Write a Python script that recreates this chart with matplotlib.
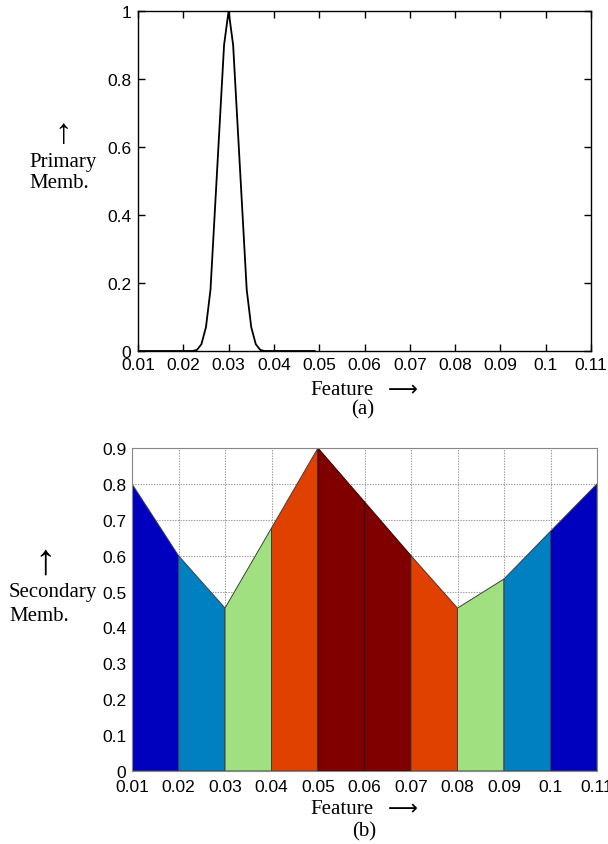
import matplotlib
matplotlib.use('Agg')
import matplotlib.pyplot as plt

# (a) primary membership
prim_x = [0.010, 0.020, 0.022, 0.023, 0.024, 0.025, 0.026, 0.027, 0.028, 0.029, 0.030,
          0.031, 0.032, 0.033, 0.034, 0.035, 0.036, 0.037, 0.038, 0.040, 0.049]
prim_y = [0.0, 0.0, 0.0, 0.003, 0.02, 0.07, 0.18, 0.42, 0.66, 0.90, 1.0,
          0.90, 0.66, 0.42, 0.18, 0.07, 0.02, 0.003, 0.0, 0.0, 0.0]

# (b) secondary membership
sec_x = [0.01, 0.02, 0.03, 0.04, 0.05, 0.06, 0.07, 0.08, 0.09, 0.10, 0.11]
sec_y = [0.80, 0.60, 0.454, 0.677, 0.90, 0.75, 0.60, 0.454, 0.535, 0.668, 0.80]
seg_colors = ['#0000BF', '#0080C0', '#A0E080', '#E04000', '#800000',
              '#800000', '#E04000', '#A0E080', '#0080C0', '#0000BF']

xticks = [0.01, 0.02, 0.03, 0.04, 0.05, 0.06, 0.07, 0.08, 0.09, 0.1, 0.11]
xtick_labels = ['0.01', '0.02', '0.03', '0.04', '0.05', '0.06', '0.07', '0.08', '0.09', '0.1', '0.11']

W, H = 608, 845
fig = plt.figure(figsize=(W / 100, H / 100), dpi=100)
sans = ['Liberation Sans', 'DejaVu Sans']
serif = ['Liberation Serif', 'DejaVu Serif']
tick_fs = 12.5
lab_fs = 15


def fx(px):
    return px / W


def fy(py):
    return 1 - py / H


# ---- top plot ----
ax1 = fig.add_axes([fx(138), fy(352), (591 - 138) / W, (352 - 12) / H])
ax1.plot(prim_x, prim_y, color='black', linewidth=1.3)
ax1.set_xlim(0.01, 0.11)
ax1.set_ylim(0, 1)
ax1.set_xticks(xticks)
ax1.set_xticklabels(xtick_labels)
ax1.set_yticks([0, 0.2, 0.4, 0.6, 0.8, 1])
ax1.set_yticklabels(['0', '0.2', '0.4', '0.6', '0.8', '1'])
ax1.tick_params(direction='in', length=5, top=True, right=True, width=1,
                labelsize=tick_fs, colors='black')
ax1.tick_params(axis='x', pad=4)
ax1.tick_params(axis='y', pad=5)
for lab in ax1.get_xticklabels() + ax1.get_yticklabels():
    lab.set_family(sans)
for sp in ax1.spines.values():
    sp.set_linewidth(1)

fig.text(fx(63), fy(134), '\u2191', ha='center', va='center', fontsize=25, family=serif)
fig.text(fx(29), fy(162), 'Primary', ha='left', va='center', fontsize=lab_fs, family=serif)
fig.text(fx(29), fy(184), 'Memb.', ha='left', va='center', fontsize=lab_fs, family=serif)
fig.text(fx(310), fy(391), 'Feature', ha='left', va='center', fontsize=lab_fs, family=serif)
fig.text(fx(388), fy(390), '\u27f6', ha='left', va='center', fontsize=lab_fs, family=['DejaVu Sans'])
fig.text(fx(363), fy(410), '(a)', ha='center', va='center', fontsize=lab_fs, family=serif)

# ---- bottom plot ----
ax2 = fig.add_axes([fx(132), fy(772), (597 - 132) / W, (772 - 449) / H])
ax2.set_axisbelow(True)
ax2.grid(True, linestyle=(0, (1.2, 1.2)), color='#999999', linewidth=0.8)
for i in range(len(sec_x) - 1):
    xs = [sec_x[i], sec_x[i], sec_x[i + 1], sec_x[i + 1]]
    ys = [0, sec_y[i], sec_y[i + 1], 0]
    edge = '#300000' if seg_colors[i] == '#800000' else '#404040'
    ax2.fill(xs, ys, facecolor=seg_colors[i], edgecolor=edge, linewidth=0.7, zorder=2)
ax2.set_xlim(0.01, 0.11)
ax2.set_ylim(0, 0.9)
ax2.set_xticks(xticks)
ax2.set_xticklabels(xtick_labels)
ax2.set_yticks([0, 0.1, 0.2, 0.3, 0.4, 0.5, 0.6, 0.7, 0.8, 0.9])
ax2.set_yticklabels(['0', '0.1', '0.2', '0.3', '0.4', '0.5', '0.6', '0.7', '0.8', '0.9'])
ax2.tick_params(length=0, labelsize=tick_fs, colors='black')
ax2.tick_params(axis='x', pad=6)
ax2.tick_params(axis='y', pad=4)
for lab in ax2.get_xticklabels() + ax2.get_yticklabels():
    lab.set_family(sans)
for sp in ax2.spines.values():
    sp.set_linewidth(0.8)
    sp.set_color('#888888')

fig.text(fx(45), fy(563), '\u2191', ha='center', va='center', fontsize=31, family=serif)
fig.text(fx(9), fy(593), 'Secondary', ha='left', va='center', fontsize=lab_fs, family=serif)
fig.text(fx(9), fy(617), 'Memb.', ha='left', va='center', fontsize=lab_fs, family=serif)
fig.text(fx(310), fy(810), 'Feature', ha='left', va='center', fontsize=lab_fs, family=serif)
fig.text(fx(388), fy(809), '\u27f6', ha='left', va='center', fontsize=lab_fs, family=['DejaVu Sans'])
fig.text(fx(364), fy(832), '(b)', ha='center', va='center', fontsize=lab_fs, family=serif)

fig.savefig('out.png', dpi=100)
